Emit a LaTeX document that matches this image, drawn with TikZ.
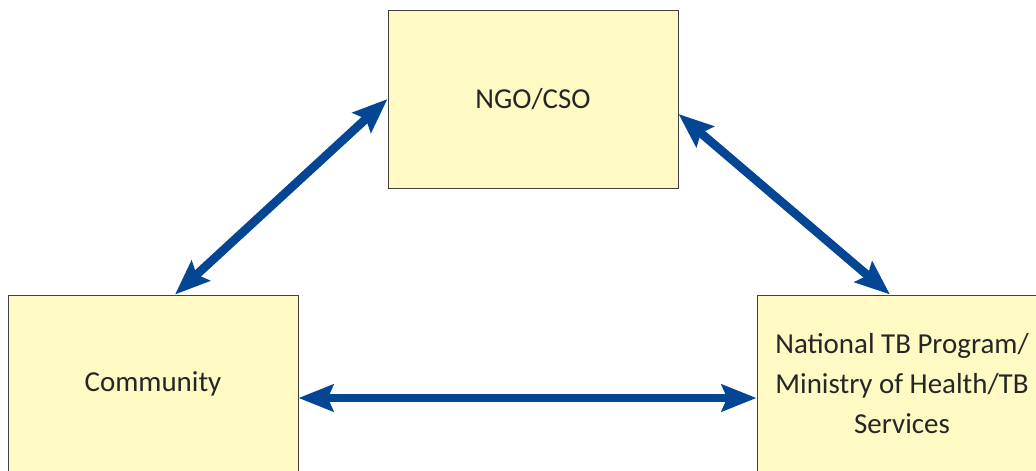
\documentclass[tikz,border=0pt]{standalone}
\usepackage{fontspec}
\setmainfont{Carlito}
\usetikzlibrary{arrows.meta}

\tikzset{every picture/.style={line width=0.75pt}}

\begin{document}
\begin{tikzpicture}[x=0.75pt,y=0.75pt,yscale=-1,xscale=1,
	partybox/.style={draw={rgb, 255:red, 64; green, 64; blue, 64 },fill={rgb, 255:red, 255; green, 249; blue, 196 },line width=0.75pt,minimum width=217.5pt,minimum height=133.5pt,inner sep=0pt,align=center,text={rgb, 255:red, 38; green, 38; blue, 38 },font=\fontsize{21.7}{30}\selectfont},
	link/.style={draw={rgb, 255:red, 4; green, 70; blue, 148 },line width=6.5pt,{Stealth[length=26pt,width=20pt,inset=4pt]}-{Stealth[length=26pt,width=20pt,inset=4pt]}}]
	%set diagram size to 1036 x 471
	\useasboundingbox (0,0) rectangle (1036,471);

	% Text Node
	\node [partybox] (ngo) at (533,99) {NGO/CSO};
	% Text Node
	\node [partybox] (comm) at (153,384) {Community};
	% Text Node
	\node [partybox] (ntp) at (902,384) {National TB Program/\\Ministry of Health/TB\\Services};

	%Straight Lines
	\draw [link] ([xshift=16.5pt]comm.north) -- (ngo.west) ;
	%Straight Lines
	\draw [link] ([yshift=11.25pt]ngo.east) -- ([xshift=-9pt]ntp.north) ;
	%Straight Lines
	\draw [link] ([yshift=10.5pt]comm.east) -- ([yshift=10.5pt]ntp.west) ;

\end{tikzpicture}
\end{document}
